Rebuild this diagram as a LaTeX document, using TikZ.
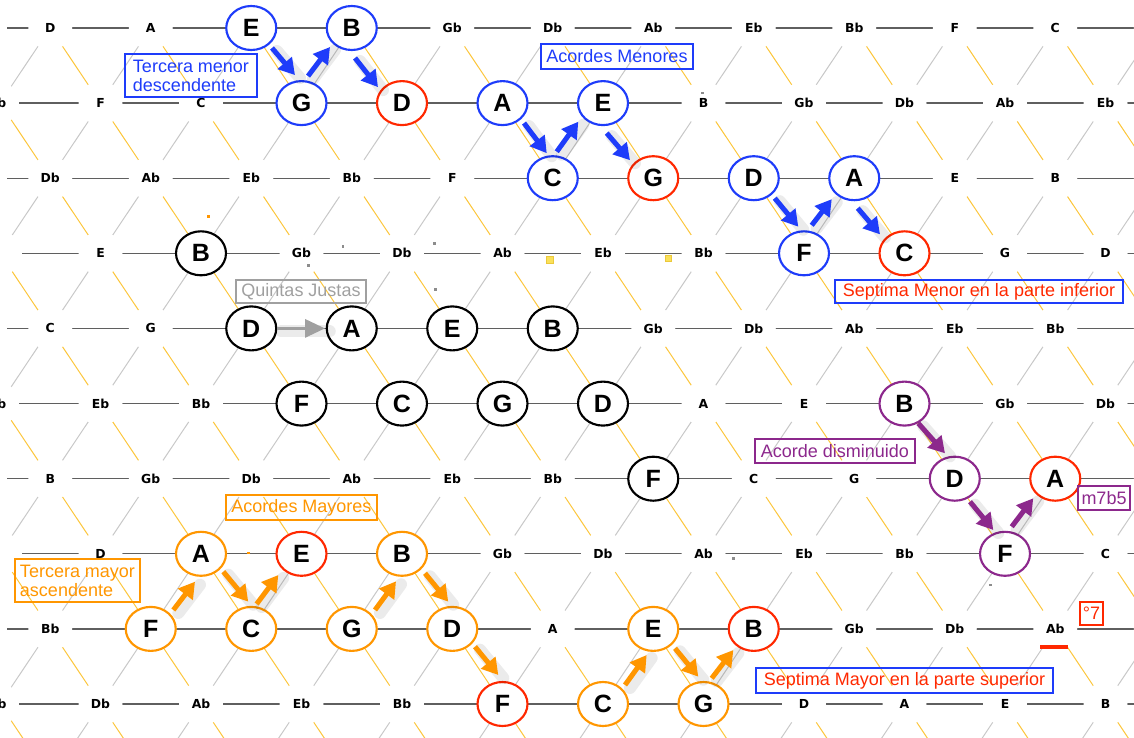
\documentclass[tikz,border=0pt]{standalone}
\usepackage{fontspec}
\setmainfont{Liberation Sans}
\newfontfamily\dejavu{DejaVu Sans}
\usetikzlibrary{shapes.geometric,arrows.meta,calc}
\definecolor{cblue}{RGB}{30,60,250}
\definecolor{cred}{RGB}{255,40,0}
\definecolor{corange}{RGB}{255,150,0}
\definecolor{cpurple}{RGB}{140,40,140}
\definecolor{cgray}{RGB}{160,160,160}
\definecolor{hgray}{RGB}{95,95,95}
\definecolor{dgray}{RGB}{200,200,200}
\definecolor{dyellow}{RGB}{252,198,60}
\definecolor{sqfill}{RGB}{250,225,90}
\definecolor{sqdraw}{RGB}{235,200,60}
\newcommand\chordarrow[7]{%
  \draw[shd] ($(#2)+(#3+5,#4+3)$) -- ($(#5)+(#6+5,#7+3)$);
  \draw[arr=#1] ($(#2)+(#3,#4)$) -- ($(#5)+(#6,#7)$);}
\begin{document}
\begin{tikzpicture}[x=0.75pt,y=-0.75pt,
  hline/.style={draw=hgray,line width=1pt},
  gline/.style={draw=dgray,line width=0.75pt},
  oline/.style={draw=dyellow,line width=0.75pt},
  lbl/.style={circle,fill=white,inner sep=0pt,minimum size=33pt,font=\dejavu\bfseries\fontsize{9.3}{10}\selectfont},
  nd/.style={ellipse,draw=#1,fill=white,line width=1.6pt,minimum width=37.5pt,minimum height=33pt,inner sep=0pt,font=\bfseries\fontsize{18.75}{20}\selectfont},
  arr/.style={draw=#1,line width=3.75pt,-{Triangle[length=12pt,width=13.5pt]}},
  shd/.style={draw=black,opacity=0.08,line width=9pt,line cap=round},
  box/.style={draw=#1,line width=1.1pt,inner xsep=1pt,inner ysep=0pt,minimum height=18pt,font=\fontsize{13.5}{14.25}\selectfont},
]
\useasboundingbox (0,0) rectangle (1134,738);
% lattice
\begin{scope}
\clip (0,0) rectangle (1134,738);
\foreach \c in {1,3,...,35} \draw[gline] ({50.25*\c},28) -- ({50.25*(\c-10)},{28+75.11*10});
\foreach \c in {-19,-17,...,21} \draw[oline] ({50.25*\c},28) -- ({50.25*(\c+10)},{28+75.11*10});
\foreach \r in {0,...,9} \draw[hline] (7,{28+75.11*\r}) -- (1134,{28+75.11*\r});
\end{scope}
% note labels (empty where a circled note sits)
\foreach \r/\s/\L in {
 0/1/{D,A,{},{},Gb,Db,Ab,Eb,Bb,F,C},
 1/0/{Bb,F,C,{},{},{},{},B,Gb,Db,Ab,Eb},
 2/1/{Db,Ab,Eb,Bb,F,{},{},{},{},E,B},
 3/2/{E,{},Gb,Db,Ab,Eb,Bb,{},{},G,D},
 4/1/{C,G,{},{},{},{},Gb,Db,Ab,Eb,Bb},
 5/0/{Ab,Eb,Bb,{},{},{},{},A,E,{},Gb,Db},
 6/1/{B,Gb,Db,Ab,Eb,Bb,{},C,G,{},{}},
 7/2/{D,{},{},{},Gb,Db,Ab,Eb,Bb,{},C},
 8/1/{Bb,{},{},{},{},A,{},{},Gb,Db,Ab},
 9/0/{Gb,Db,Ab,Eb,Bb,{},{},{},D,A,E,B}}
 \foreach \n [count=\i from 0] in \L
  \node[lbl] (L-\r-\i) at ({50.25*(\s+2*\i)-((\s+2*\i)==0?3:0)},{28+75.11*\r}) {\n};
\node[lbl] (H-3) at (0,253.3) {};
\node[lbl] (H-7) at (0,553.8) {};
\foreach \r in {0,2,4,6,8} \node[lbl] (E-\r) at (1155.75,{28+75.11*\r}) {};
% blue (minor)
\node[nd=cblue] (n1) at (251.25,28) {E};
\node[nd=cblue] (n2) at (351.75,28) {B};
\node[nd=cblue] (n3) at (301.5,103.1) {G};
\node[nd=cred] (n4) at (402,103.1) {D};
\node[nd=cblue] (n5) at (502.5,103.1) {A};
\node[nd=cblue] (n6) at (603,103.1) {E};
\node[nd=cblue] (n7) at (552.75,178.2) {C};
\node[nd=cred] (n8) at (653.25,178.2) {G};
\node[nd=cblue] (n9) at (753.75,178.2) {D};
\node[nd=cblue] (n10) at (854.25,178.2) {A};
\node[nd=cblue] (n11) at (804,253.3) {F};
\node[nd=cred] (n12) at (904.5,253.3) {C};
% black (fifths)
\node[nd=black] (k1) at (201,253.3) {B};
\node[nd=black] (k2) at (251.25,328.4) {D};
\node[nd=black] (k3) at (351.75,328.4) {A};
\node[nd=black] (k4) at (452.25,328.4) {E};
\node[nd=black] (k5) at (552.75,328.4) {B};
\node[nd=black] (k6) at (301.5,403.6) {F};
\node[nd=black] (k7) at (402,403.6) {C};
\node[nd=black] (k8) at (502.5,403.6) {G};
\node[nd=black] (k9) at (603,403.6) {D};
\node[nd=black] (k10) at (653.25,478.7) {F};
% purple (diminished)
\node[nd=cpurple] (p1) at (904.5,403.6) {B};
\node[nd=cpurple] (p2) at (954.75,478.7) {D};
\node[nd=cred] (p3) at (1055.25,478.7) {A};
\node[nd=cpurple] (p4) at (1005,553.8) {F};
% orange (major)
\node[nd=corange] (o1) at (201,553.8) {A};
\node[nd=cred] (o2) at (301.5,553.8) {E};
\node[nd=corange] (o3) at (402,553.8) {B};
\node[nd=corange] (o4) at (150.75,628.9) {F};
\node[nd=corange] (o5) at (251.25,628.9) {C};
\node[nd=corange] (o6) at (351.75,628.9) {G};
\node[nd=corange] (o7) at (452.25,628.9) {D};
\node[nd=corange] (o8) at (653.25,628.9) {E};
\node[nd=cred] (o9) at (753.75,628.9) {B};
\node[nd=cred] (o10) at (502.5,704) {F};
\node[nd=corange] (o11) at (603,704) {C};
\node[nd=corange] (o12) at (703.5,704) {G};
% arrows
\chordarrow{cblue}{n1}{20.75}{20}{n3}{-6.5}{-28}
\chordarrow{cblue}{n3}{6.5}{-27}{n2}{-21.75}{19}
\chordarrow{cblue}{n2}{3.25}{30}{n4}{-24}{-16}
\chordarrow{cblue}{n5}{21.5}{20}{n7}{-6}{-25}
\chordarrow{cblue}{n7}{4}{-26.5}{n6}{-24.7}{18.6}
\chordarrow{cblue}{n6}{3.7}{30}{n8}{-23.25}{-18}
\chordarrow{cblue}{n9}{21}{20}{n11}{-5.7}{-26.6}
\chordarrow{cblue}{n11}{7.7}{-28}{n10}{-22.5}{21}
\chordarrow{cblue}{n10}{3.5}{30}{n12}{-24.5}{-19}
\draw[shd] ($(k2)+(30,3)$) -- ($(k3)+(-22,3)$);
\draw[draw=cgray,line width=2.4pt,-{Triangle[length=15pt,width=13.5pt]}] ($(k2)+(25.75,0)$) -- ($(k3)+(-26.75,0)$);
\chordarrow{cpurple}{p1}{13.8}{19.7}{p2}{-9.75}{-25.4}
\chordarrow{cpurple}{p2}{15.25}{23}{p4}{-11.7}{-23.8}
\chordarrow{cpurple}{p4}{6.7}{-27.1}{p3}{-22}{19.6}
\chordarrow{corange}{o4}{22.6}{-18.9}{o1}{-6}{27.9}
\chordarrow{corange}{o1}{22.3}{17.9}{o5}{-3}{-27.2}
\chordarrow{corange}{o5}{5.4}{-24.9}{o2}{-23.2}{21.2}
\chordarrow{corange}{o6}{23.25}{-18.9}{o3}{-6}{27.5}
\chordarrow{corange}{o3}{23}{19.5}{o7}{-4}{-27.2}
\chordarrow{corange}{o7}{22.75}{17.8}{o10}{-4.2}{-29}
\chordarrow{corange}{o11}{22}{-19}{o8}{-6.6}{26.1}
\chordarrow{corange}{o8}{21.75}{19.4}{o12}{-5.2}{-27.3}
\chordarrow{corange}{o12}{8.2}{-25.7}{o9}{-20.4}{21.1}
% annotation boxes
\node[box=cblue,text=cblue,align=left,minimum width=99pt,minimum height=32.25pt] (tmen) at (191,75.5) {Tercera menor\\descendente};
\node[box=cblue,text=cblue,minimum width=114pt,minimum height=18.75pt] (amen) at (617,56.5) {Acordes Menores};
\node[box=cblue,text=cred,minimum width=216pt,minimum height=17.25pt] (smen) at (979,291.5) {Septima Menor en la parte inferior};
\node[box=cgray,text=cgray,minimum width=97.5pt,minimum height=17.25pt] (qj) at (301,291.5) {Quintas Justas};
\node[box=cpurple,text=cpurple,minimum width=120pt,minimum height=18pt] (adis) at (835,451) {Acorde disminuido};
\node[box=cpurple,text=cpurple,minimum width=39pt,minimum height=18pt] (m7b5) at (1104,498) {m7b5};
\node[box=cred,text=cred,minimum width=17.25pt,minimum height=17.25pt] (dim7) at (1091.5,613.5) {°7};
\node[box=corange,text=corange,minimum width=113.25pt,minimum height=18.75pt] (amay) at (301.5,507.5) {Acordes Mayores};
\node[box=corange,text=corange,align=left,minimum width=93.75pt,minimum height=32.25pt] (tmay) at (77.5,580.5) {Tercera mayor\\ascendente};
\node[box=cblue,text=cred,minimum width=222.75pt,minimum height=18.75pt] (smay) at (904.5,680.5) {Septima Mayor en la parte superior};
% red mark under Ab
\draw[cred,line width=2.6pt] ($(L-8-10)+(-15,18)$) -- ($(L-8-10)+(13,18)$);
% stray dots
\fill[corange] (207,214.5) rectangle (210,217.5);
\fill[corange] (247,551.5) rectangle (249.5,554);
\fill[black!45] (341.5,245) rectangle (344,247.5);
\fill[black!45] (307,264) rectangle (309.5,266.5);
\fill[black!45] (433,242) rectangle (435.5,244.5);
\fill[black!45] (434,288) rectangle (436.5,290.5);
\fill[black!45] (701,92) rectangle (703.5,94.5);
\fill[black!45] (732,557) rectangle (734.5,559.5);
\fill[black!45] (989,583.5) rectangle (991.5,586);
\filldraw[fill=sqfill,draw=sqdraw,line width=0.5pt] (546,256.5) rectangle (553.5,263.5);
\filldraw[fill=sqfill,draw=sqdraw,line width=0.5pt] (665,255) rectangle (671.5,261.5);
\end{tikzpicture}
\end{document}
